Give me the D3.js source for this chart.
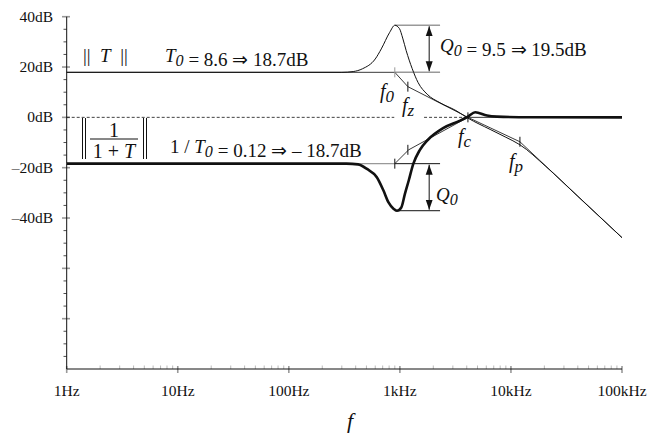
<!DOCTYPE html>
<html>
<head>
<meta charset="utf-8">
<script src="https://cdn.jsdelivr.net/npm/d3@7"></script>
<style>
  body { margin: 0; background: #fff; }
  svg text { font-family: "Liberation Serif", "Times New Roman", serif; fill: #111; }
</style>
</head>
<body>
<svg id="chart" width="654" height="437"></svg>
<script>
// loop gain ||T||: [frequency Hz, dB]
var loopGain = [[1, 17.9], [300, 17.9], [380, 18.2], [460, 19.3], [600, 23.2], [680, 27.2],
  [810, 33.8], [900, 36.6], [990, 35.3], [1060, 31.5], [1140, 26.5], [1290, 19.4],
  [1460, 13.8], [1760, 9.2], [2300, 5.8], [3200, 2.7], [4100, -0.3], [6500, -4.8],
  [9000, -7.9], [12050, -10.9], [20600, -19.5], [40000, -31.4], [100000, -47.8]];
// asymptotes of ||T||
var loopAsym = [[1, 17.9], [900, 17.9], [1180, 12.2], [4100, 0], [12050, -9.7], [100000, -47.8]];
// ||1/(1+T)||
var closedGain = [[1, -18.4], [330, -18.4], [420, -18.7], [505, -20.5], [620, -23.8], [710, -29.0],
  [790, -33.8], [880, -36.4], [940, -37.1], [1030, -35.8], [1110, -30.4], [1200, -25.2],
  [1320, -18.5], [1510, -13.0], [1800, -8.8], [2450, -4.3], [3490, -1.3], [4100, 0.3],
  [4770, 2.0], [6080, 0.7], [7480, 0.3], [15000, 0.05], [100000, 0]];
var closedAsym = [[1, -18.4], [900, -18.4], [1200, -12.9], [4100, 0], [100000, 0]];

var xTicks = [1, 10, 100, 1000, 10000, 100000];
var xTickLabels = ["1Hz", "10Hz", "100Hz", "1kHz", "10kHz", "100kHz"];
var yTicks = [40, 20, 0, -20, -40, -60, -80];
var yTickLabels = ["40dB", "20dB", "0dB", "\u201320dB", "\u201340dB", "", ""];

// corner frequencies and levels
var f0 = 900, fz = 1180, fc = 4100, fp = 12050;
var T0dB = 17.9, peakdB = 36.6, invT0dB = -18.4, dipdB = -37.1;

var svg = d3.select("#chart");
var x = d3.scaleLog().domain([1, 100000]).range([66.7, 622]);
var y = d3.scaleLinear().domain([-100, 40]).range([369, 16.7]);

var line = d3.line().x(function (d) { return x(d[0]); }).y(function (d) { return y(d[1]); });
var smooth = d3.line().x(function (d) { return x(d[0]); }).y(function (d) { return y(d[1]); })
  .curve(d3.curveMonotoneX);

// ---- axes
var minorX = [];
xTicks.slice(0, -1).forEach(function (t) { for (var k = 2; k < 10; k++) minorX.push(t * k); });
svg.append("g").selectAll("line").data(minorX).enter().append("line")
  .attr("x1", function (d) { return x(d); }).attr("x2", function (d) { return x(d); })
  .attr("y1", 365.5).attr("y2", 369).attr("stroke", "#aaa").attr("stroke-width", 0.8);
svg.append("g").selectAll("line").data(xTicks).enter().append("line")
  .attr("x1", function (d) { return x(d); }).attr("x2", function (d) { return x(d); })
  .attr("y1", 366).attr("y2", 373).attr("stroke", "#999").attr("stroke-width", 1.6);

var minorY = d3.range(-95, 40, 5).filter(function (d) { return d % 20 !== 0; });
svg.append("g").selectAll("line").data(minorY).enter().append("line")
  .attr("x1", 63.5).attr("x2", 66.7)
  .attr("y1", function (d) { return y(d); }).attr("y2", function (d) { return y(d); })
  .attr("stroke", "#222").attr("stroke-width", 0.8);
svg.append("g").selectAll("line").data(yTicks).enter().append("line")
  .attr("x1", 62).attr("x2", 70)
  .attr("y1", function (d) { return y(d); }).attr("y2", function (d) { return y(d); })
  .attr("stroke", "#999").attr("stroke-width", 1.6);

svg.append("line").attr("x1", x(1)).attr("x2", x(1)).attr("y1", y(40)).attr("y2", y(-100))
  .attr("stroke", "#111").attr("stroke-width", 1);
svg.append("line").attr("x1", x(1)).attr("x2", x(100000)).attr("y1", y(-100)).attr("y2", y(-100))
  .attr("stroke", "#111").attr("stroke-width", 1);

svg.append("g").selectAll("text").data(yTicks).enter().append("text")
  .attr("x", 53).attr("y", function (d) { return y(d) + 5; })
  .attr("text-anchor", "end").attr("font-size", 15.5)
  .text(function (d, i) { return yTickLabels[i]; });
svg.append("g").selectAll("text").data(xTicks).enter().append("text")
  .attr("x", function (d) { return x(d); }).attr("y", 396)
  .attr("text-anchor", "middle").attr("font-size", 15.5)
  .text(function (d, i) { return xTickLabels[i]; });
svg.append("text").attr("x", 350).attr("y", 428).attr("text-anchor", "middle")
  .attr("font-size", 22).attr("font-style", "italic").text("f");

// ---- 0dB dashed reference, broken around the f_z label
[[1, 890], [1650, fc]].forEach(function (seg) {
  svg.append("line").attr("x1", x(seg[0])).attr("x2", x(seg[1]))
    .attr("y1", y(0)).attr("y2", y(0))
    .attr("stroke", "#111").attr("stroke-width", 0.8).attr("stroke-dasharray", "3,2");
});

// ---- Q0 guide lines
var qEnd = 2300;
svg.append("line").attr("x1", x(f0)).attr("x2", x(qEnd)).attr("y1", y(peakdB)).attr("y2", y(peakdB))
  .attr("stroke", "#999").attr("stroke-width", 1.4);
svg.append("line").attr("x1", x(f0)).attr("x2", x(qEnd)).attr("y1", y(T0dB)).attr("y2", y(T0dB))
  .attr("stroke", "#999").attr("stroke-width", 1.4);
svg.append("line").attr("x1", x(f0)).attr("x2", x(qEnd)).attr("y1", y(invT0dB)).attr("y2", y(invT0dB))
  .attr("stroke", "#111").attr("stroke-width", 1);
svg.append("line").attr("x1", x(f0)).attr("x2", x(qEnd)).attr("y1", y(dipdB)).attr("y2", y(dipdB))
  .attr("stroke", "#111").attr("stroke-width", 1);

// ---- asymptotes
svg.append("path").datum(loopAsym).attr("d", line).attr("fill", "none")
  .attr("stroke", "#222").attr("stroke-width", 0.9);
svg.append("path").datum(closedAsym.slice(0, 2)).attr("d", line).attr("fill", "none")
  .attr("stroke", "#999").attr("stroke-width", 1.2);
svg.append("path").datum(closedAsym.slice(1)).attr("d", line).attr("fill", "none")
  .attr("stroke", "#222").attr("stroke-width", 0.9);

// ---- curves
svg.append("path").datum(loopGain).attr("d", smooth).attr("fill", "none")
  .attr("stroke", "#111").attr("stroke-width", 1);
svg.append("path").datum(closedGain).attr("d", smooth).attr("fill", "none")
  .attr("stroke", "#111").attr("stroke-width", 2.6);

// ---- corner ticks
var cornerTicks = [[f0, T0dB, "#999"], [fz, 12.2, "#111"], [fc, 0, "#111"], [fp, -9.7, "#111"],
  [f0, invT0dB, "#111"], [fz, -12.9, "#111"]];
svg.append("g").selectAll("line").data(cornerTicks).enter().append("line")
  .attr("x1", function (d) { return x(d[0]); }).attr("x2", function (d) { return x(d[0]); })
  .attr("y1", function (d) { return y(d[1]) - 5; }).attr("y2", function (d) { return y(d[1]) + 5; })
  .attr("stroke", function (d) { return d[2]; }).attr("stroke-width", 1);

// ---- double arrows
var defs = svg.append("defs");
defs.append("marker").attr("id", "ah").attr("viewBox", "0 0 10 10").attr("refX", 10).attr("refY", 5)
  .attr("markerWidth", 10).attr("markerHeight", 10).attr("markerUnits", "userSpaceOnUse")
  .attr("orient", "auto-start-reverse")
  .append("path").attr("d", "M0,1.5 L10,5 L0,8.5 Z").attr("fill", "#111");
var fArrow = 1836;
[[peakdB, T0dB], [invT0dB, dipdB]].forEach(function (a) {
  svg.append("line").attr("x1", x(fArrow)).attr("x2", x(fArrow))
    .attr("y1", y(a[0]) + 1).attr("y2", y(a[1]) - 1)
    .attr("stroke", "#111").attr("stroke-width", 1)
    .attr("marker-start", "url(#ah)").attr("marker-end", "url(#ah)");
});

// ---- text annotations
function sub(sel, main, s, italicMain) {
  sel.append("tspan").attr("font-style", italicMain ? "italic" : null).text(main);
  sel.append("tspan").attr("font-style", "italic").attr("font-size", "0.85em").attr("dy", 4).text(s);
  sel.append("tspan").attr("dy", -4).text("");
}

var t1 = svg.append("text").attr("x", 83).attr("y", 62).attr("font-size", 19)
  .attr("xml:space", "preserve");
t1.append("tspan").text("||  ");
t1.append("tspan").attr("font-style", "italic").text("T");
t1.append("tspan").text("  ||");

var t2 = svg.append("text").attr("x", 165).attr("y", 62).attr("font-size", 19);
sub(t2, "T", "0", true);
t2.append("tspan").text("  = 8.6 \u21D2 18.7dB");

var t3 = svg.append("text").attr("x", 170).attr("y", 153).attr("font-size", 19);
t3.append("tspan").text("1 / ");
sub(t3, "T", "0", true);
t3.append("tspan").text("  = 0.12 \u21D2 \u2013 18.7dB");

// ||1/(1+T)|| box
[82.5, 85.5, 143.5, 146.5].forEach(function (bx) {
  svg.append("line").attr("x1", bx).attr("x2", bx).attr("y1", 118).attr("y2", 159)
    .attr("stroke", "#111").attr("stroke-width", 1);
});
svg.append("line").attr("x1", 90).attr("x2", 138).attr("y1", 139).attr("y2", 139)
  .attr("stroke", "#111").attr("stroke-width", 1);
svg.append("text").attr("x", 114).attr("y", 137).attr("text-anchor", "middle")
  .attr("font-size", 20).text("1");
var den = svg.append("text").attr("x", 114).attr("y", 157.5).attr("text-anchor", "middle")
  .attr("font-size", 20).attr("xml:space", "preserve");
den.append("tspan").text("1 + ");
den.append("tspan").attr("font-style", "italic").text("T");

var t4 = svg.append("text").attr("x", 440).attr("y", 52).attr("font-size", 19);
sub(t4, "Q", "0", true);
t4.append("tspan").text(" = 9.5 \u21D2 19.5dB");

var t5 = svg.append("text").attr("x", 436).attr("y", 201).attr("font-size", 19);
sub(t5, "Q", "0", true);

var fLabels = [["0", 380, 98], ["z", 402, 112], ["c", 458, 143], ["p", 509, 168]];
fLabels.forEach(function (l) {
  var t = svg.append("text").attr("x", l[1]).attr("y", l[2]).attr("font-size", 20);
  sub(t, "f", l[0], true);
});
</script>
</body>
</html>
